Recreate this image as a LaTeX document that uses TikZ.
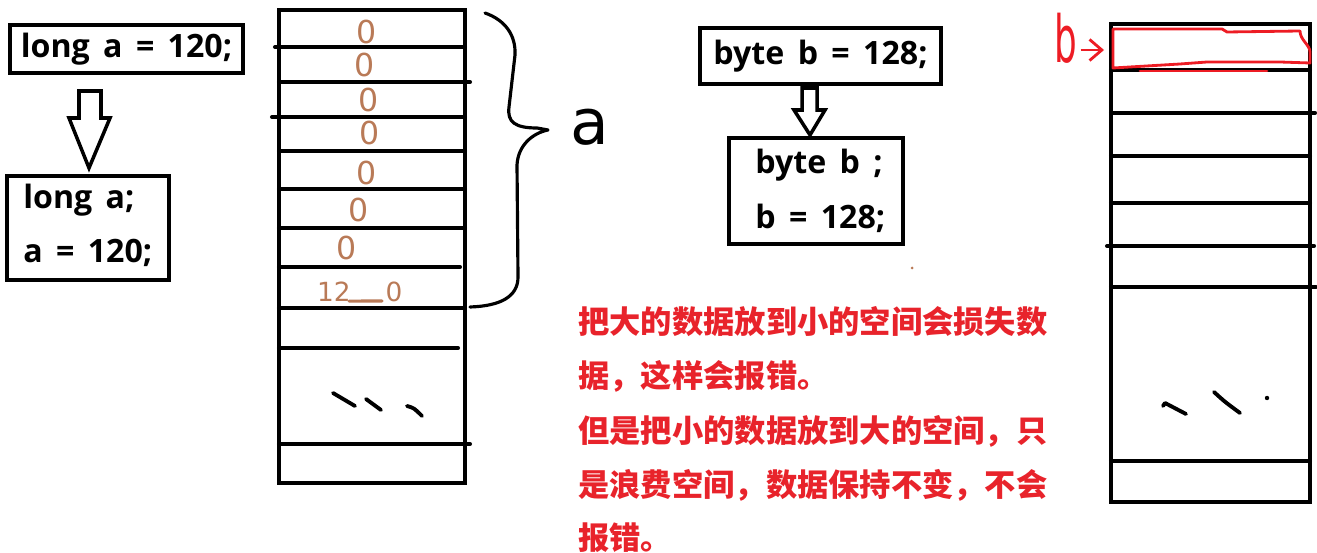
\documentclass[tikz,border=0pt]{standalone}
\usepackage{fontspec}
\usepackage{graphicx}
\setmainfont{Open Sans}[BoldFont={Open Sans Bold}, WordSpace=1.6]
\newfontfamily\cjk{Noto Sans CJK SC}
\newfontfamily\dv{DejaVu Sans}
\usetikzlibrary{arrows.meta}
\definecolor{pbrown}{HTML}{B97A57}
\definecolor{pred}{HTML}{ED1C24}
\definecolor{tred}{HTML}{E8232B}
\begin{document}
\begin{tikzpicture}[x=0.02cm,y=-0.02cm,
  cell/.style={line width=2.3pt, line cap=round},
  codebox/.style={draw, line width=2.3pt, inner sep=0pt},
  code/.style={font=\bfseries\fontsize{18.3pt}{20pt}\selectfont, inner sep=0pt},
  note/.style={font=\cjk\bfseries\fontsize{17.8pt}{20pt}\selectfont, text=tred, anchor=west, inner sep=0pt},
  digit/.style={font=\dv\fontsize{18pt}{20pt}\selectfont, text=pbrown, inner sep=0pt},
  smalldigit/.style={font=\dv\fontsize{15pt}{17pt}\selectfont, text=pbrown, inner sep=0pt},
  hollow/.style={draw, line width=2pt, line join=miter, fill=white},
  stroke/.style={line width=2.2pt, line cap=round, line join=round}]
\useasboundingbox (0,0) rectangle (1317,553);

% ---------- left code boxes ----------
\node[codebox, code, minimum width=4.66cm, minimum height=0.96cm] (la) at (126.5,49) {long a = 120;};
\node[codebox, minimum width=3.24cm, minimum height=2.08cm] (la2) at (88,228) {};
\node[code, anchor=west] (l1) at (23,200) {long a;};
\node[code, anchor=west] (l2) at (23,253) {a = 120;};
\draw[hollow] (79,91) -- (101,91) -- (101,118) -- (110,118) -- (89,168) -- (69,118) -- (79,118) -- cycle;

% ---------- memory column 1 ----------
\draw[cell] (279,10) rectangle (465,483);
\draw[cell] (275,47) -- (465,47);
\draw[cell] (279,82) -- (470,82);
\draw[cell] (272,117) -- (465,117);
\draw[cell] (279,151) -- (465,151);
\draw[cell] (279,189) -- (465,189);
\draw[cell] (279,228) -- (465,228);
\draw[cell] (279,267) -- (460,267);
\draw[cell] (279,308) -- (465,308);
\draw[cell] (279,348) -- (458,348);
\draw[cell] (279,444) -- (470,444);

\node[digit] (d1) at (367,32) {0};
\node[digit] (d2) at (365,65) {0};
\node[digit] (d3) at (369,100) {0};
\node[digit] (d4) at (370,133) {0};
\node[digit] (d5) at (367,173) {0};
\node[digit] (d6) at (359,210) {0};
\node[digit] (d7) at (347,248) {0};
\node[smalldigit] (d12) at (334,292) {12};
\node[smalldigit] (d0) at (394,292) {0};
\draw[pbrown, line width=1.8pt, line cap=round] (d12.south east) ++(-2,-1) -- (382,301);

\draw[stroke] (333,393) -- (355,406);
\draw[stroke] (366,399) -- (381,410);
\draw[stroke] (407,406) .. controls (414,408) .. (422,416);

% brace and label a
\draw[line width=1.8pt, line cap=round, line join=round]
  (485,13) .. controls (505,20) and (516,35) .. (515,55) -- (509,107)
  .. controls (507,122) and (515,128) .. (537,128) -- (548,130)
  .. controls (533,133) and (518,145) .. (517,165) -- (518,277)
  .. controls (518,297) and (500,306) .. (470,307);
\node[font=\dv\fontsize{36pt}{40pt}\selectfont, inner sep=0pt] (alabel) at (590,127) {a};

% ---------- byte boxes ----------
\node[codebox, code, minimum width=4.82cm, minimum height=1.12cm] (bb) at (820.5,56) {byte b = 128;};
\node[codebox, minimum width=3.48cm, minimum height=2.12cm] (bb2) at (816,191) {};
\node[code, anchor=west] (b1) at (755,165) {byte b ;};
\node[code, anchor=west] (b2) at (755,218) {b = 128;};
\draw[hollow] (802,88) -- (817,88) -- (817,110) -- (825,110) -- (810,135) -- (794,110) -- (802,110) -- cycle;
\fill[pbrown] (912,268) circle (1.5);

% ---------- red note ----------
\node[note] (n1) at (578,322) {把大的数据放到小的空间会损失数};
\node[note] (n2) at (578,376) {据，这样会报错。};
\node[note] (n3) at (578,431) {但是把小的数据放到大的空间，只};
\node[note] (n4) at (578,485) {是浪费空间，数据保持不变，不会};
\node[note] (n5) at (578,538) {报错。};

% ---------- memory column 2 ----------
\draw[cell] (1111,24) rectangle (1310,502);
\draw[cell] (1111,70) -- (1310,70);
\draw[cell] (1111,113) -- (1315,113);
\draw[cell] (1111,156) -- (1310,156);
\draw[cell] (1111,203) -- (1310,203);
\draw[cell] (1107,246) -- (1314,246);
\draw[cell] (1111,287) -- (1316,287);
\draw[cell] (1111,461) -- (1310,461);

\draw[stroke] (1163,406) -- (1165,403) -- (1186,414);
\draw[stroke] (1214,392) .. controls (1225,402) .. (1240,413);
\fill (1267,398) circle (2.2);

% red frame and b label
\draw[pred, line width=1.6pt, line join=round]
  (1113,29) -- (1222,29) -- (1227,32) -- (1300,31)
  .. controls (1300,40) and (1310,45) .. (1310,52) -- (1310,63)
  -- (1280,62) -- (1207,62) -- (1180,64) -- (1113,68) -- cycle;
\draw[pred, line width=1.6pt, line cap=round] (1140,71) -- (1267,71);
\node[font=\dv\fontsize{37pt}{40pt}\selectfont, text=pred, inner sep=0pt] (blabel) at (1066,38) {\scalebox{0.55}[1]{b}};
\coordinate (bt) at (1104,50);
\draw[pred, line width=1.6pt, -{Straight Barb[length=7pt,width=12pt]}, shorten <=0.06cm] (blabel.east |- bt) -- (bt);
\end{tikzpicture}
\end{document}
